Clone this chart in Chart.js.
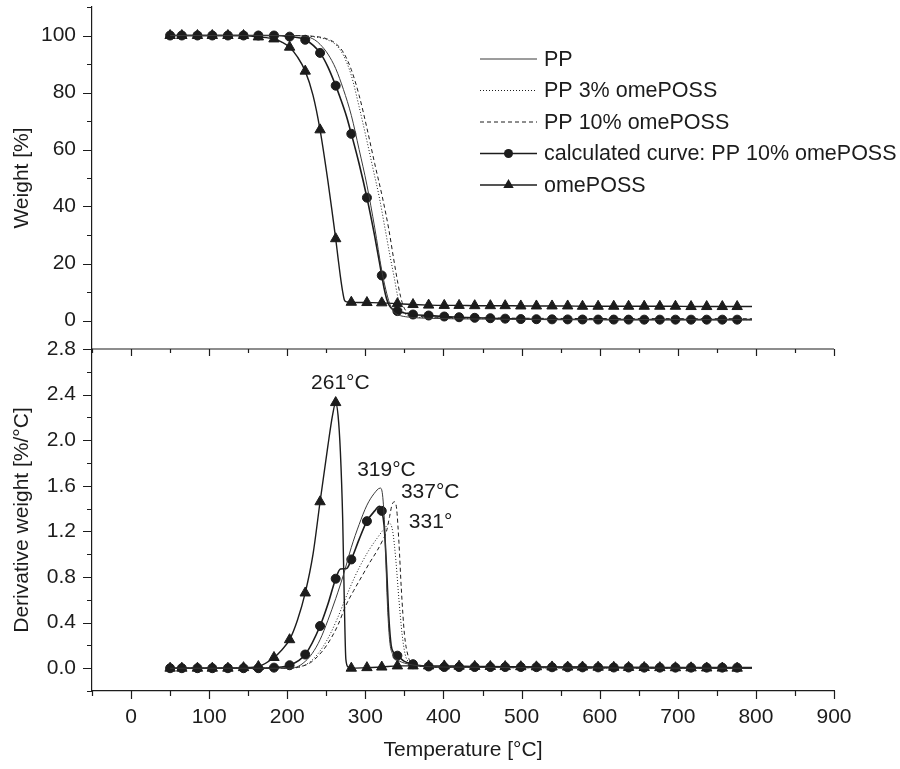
<!DOCTYPE html>
<html lang="en">

<head>
  <meta charset="UTF-8">
  <title>TGA / DTG</title>
  <script src="https://cdn.jsdelivr.net/npm/chart.js"></script>
  <style>
    html, body { margin: 0; padding: 0; background: #fff; }
  </style>
</head>

<body>
  <canvas id="tgaChart" width="900" height="769"></canvas>

  <script>
    // ---- data ----
    const seriesNames = ['PP', 'PP 3% omePOSS', 'PP 10% omePOSS', 'calculated curve: PP 10% omePOSS', 'omePOSS'];

    // temperatures where the symbols sit on the two marked curves
    const markerTemps = [50, 65, 85, 104, 124, 144, 163, 183, 203, 223, 242, 262, 282, 302, 321, 341, 361, 381, 401,
      420, 440, 460, 479, 499, 519, 539, 559, 578, 598, 618, 637, 657, 677, 697, 717, 737, 757, 776];

    // PP (solid)
    const ppWT = [50, 200, 223, 235, 242, 252, 262, 272, 282, 292, 302, 312, 321, 326, 331, 336, 342, 355, 380, 450, 550, 795];
    const ppWV = [100, 100, 99.7, 98.5, 96.9, 93.5, 88.4, 81, 72, 60, 47.5, 32.5, 17.5, 11, 6, 3.2, 2.0, 1.2, 0.8, 0.5, 0.35, 0.3];
    const ppDT = [50, 200, 212, 223, 232, 242, 252, 262, 272, 282, 292, 302, 311, 319, 322, 325, 328, 331, 335, 342, 350, 370, 400, 795];
    const ppDV = [0, 0, 0.01, 0.06, 0.13, 0.25, 0.42, 0.61, 0.82, 1.06, 1.26, 1.43, 1.53, 1.58, 1.52, 1.2, 0.6, 0.25, 0.12, 0.07, 0.045, 0.02, 0.01, 0];

    // PP 3% omePOSS (dotted)
    const pp3WT = [50, 210, 230, 250, 262, 272, 282, 292, 302, 310, 318, 326, 332, 337, 341, 345, 350, 360, 400, 500, 795];
    const pp3WV = [100, 100, 99.7, 98.6, 96.8, 93, 86, 75, 63, 53, 43, 31, 22, 15, 9, 4.8, 2.6, 1.4, 0.8, 0.5, 0.3];
    const pp3DT = [50, 200, 215, 230, 245, 255, 265, 275, 285, 295, 305, 315, 325, 331, 335, 339, 343, 347, 351, 356, 365, 400, 795];
    const pp3DV = [0, 0, 0.01, 0.06, 0.18, 0.3, 0.45, 0.62, 0.78, 0.92, 1.04, 1.14, 1.23, 1.27, 1.2, 0.95, 0.6, 0.3, 0.12, 0.05, 0.02, 0.01, 0];

    // PP 10% omePOSS (dashed)
    const pp10WT = [50, 210, 230, 250, 262, 272, 282, 292, 302, 312, 322, 330, 336, 341, 345, 349, 354, 365, 400, 500, 795];
    const pp10WV = [100, 100, 99.8, 98.9, 97.2, 94, 88, 79, 67.5, 55, 43, 32, 22, 14, 8.5, 4.8, 2.8, 1.6, 1.1, 0.8, 0.6];
    const pp10DT = [50, 200, 215, 230, 245, 255, 265, 275, 285, 295, 305, 315, 322, 327, 331, 334, 337, 340, 343, 346, 350, 355, 360, 370, 400, 795];
    const pp10DV = [0, 0, 0.01, 0.05, 0.15, 0.25, 0.38, 0.55, 0.68, 0.8, 0.92, 1.03, 1.12, 1.2, 1.33, 1.43, 1.46, 1.4, 1.1, 0.7, 0.3, 0.1, 0.04, 0.02, 0.01, 0];

    // calculated curve (circles)
    const calcT = [50, 65, 85, 104, 124, 144, 163, 183, 203, 223, 242, 252, 262, 268, 276, 282, 292, 302, 312, 318, 321, 324,
      327, 330, 333, 336, 341, 350, 361, 381, 401, 420, 440, 460, 479, 499, 519, 539, 559, 578, 598, 618, 637, 657, 677,
      697, 717, 737, 757, 776, 795];
    const calcW = [100, 100, 100, 100, 100, 100, 100, 100, 99.6, 98.5, 93.9, 89, 82.4, 78, 71.5, 65.5, 55, 43.1, 29.5, 20.5,
      15.8, 11.3, 7.8, 5.6, 4.4, 3.8, 3.3, 2.6, 2.1, 1.75, 1.4, 1.15, 0.95, 0.8, 0.65, 0.5, 0.45, 0.4, 0.38, 0.35, 0.33,
      0.32, 0.31, 0.3, 0.3, 0.3, 0.3, 0.3, 0.3, 0.3, 0.3];
    const calcD = [0, 0, 0, 0, 0, 0, 0, 0.005, 0.026, 0.12, 0.37, 0.56, 0.785, 0.87, 0.875, 0.954, 1.13, 1.29, 1.38, 1.42,
      1.38, 1.25, 0.9, 0.45, 0.2, 0.14, 0.11, 0.06, 0.035, 0.015, 0.01, 0.01, 0.01, 0.01, 0.01, 0.01, 0.009, 0.008, 0.008,
      0.007, 0.007, 0.006, 0.006, 0.005, 0.005, 0.005, 0.005, 0.005, 0.005, 0.005, 0.005];

    // omePOSS (triangles)
    const omeT = [50, 65, 85, 104, 124, 144, 163, 183, 193, 203, 213, 223, 233, 242, 252, 258, 262, 265, 268, 271, 273, 275,
      278, 282, 302, 321, 341, 361, 381, 401, 420, 440, 460, 479, 499, 519, 539, 559, 578, 598, 618, 637, 657, 677, 697,
      717, 737, 757, 776, 795];
    const omeW = [100, 100, 100, 100, 100, 100, 99.5, 98.8, 97.7, 95.9, 92.5, 87.5, 79, 66.9, 49, 37, 28.7, 22, 15.5, 10,
      7.3, 6.6, 6.5, 6.4, 6.3, 6.2, 5.9, 5.6, 5.4, 5.3, 5.3, 5.2, 5.2, 5.2, 5.1, 5.1, 5.1, 5.1, 5.0, 5.0, 5.0, 5.0, 5.0,
      5.0, 5.0, 4.9, 4.9, 4.9, 4.9, 4.9];
    const omeD = [0, 0, 0, 0, 0, 0.005, 0.015, 0.094, 0.16, 0.25, 0.42, 0.66, 1.0, 1.46, 1.95, 2.22, 2.33, 2.22, 1.9, 1.3,
      0.6, 0.08, 0.01, 0, 0.005, 0.01, 0.02, 0.02, 0.02, 0.02, 0.018, 0.016, 0.015, 0.014, 0.013, 0.012, 0.011, 0.01,
      0.01, 0.009, 0.008, 0.007, 0.006, 0.005, 0.004, 0.003, 0.002, 0.001, 0, 0];

    // peak temperature labels in the DTG panel
    const peakLabels = ['261°C', '319°C', '337°C', '331°'];
    const peakLabelX = [268, 327, 383, 383.5];
    const peakLabelY = [2.5, 1.74, 1.54, 1.28];

    // axis ticks
    const xTickVals = [0, 100, 200, 300, 400, 500, 600, 700, 800, 900];
    const xMinorVals = [-50, 50, 150, 250, 350, 450, 550, 650, 750, 850];
    const wTickVals = [0, 20, 40, 60, 80, 100];
    const wMinorVals = [10, 30, 50, 70, 90, 110];
    const dTickVals = [0, 0.4, 0.8, 1.2, 1.6, 2.0, 2.4, 2.8];
    const dMinorVals = [-0.2, 0.2, 0.6, 1.0, 1.4, 1.8, 2.2, 2.6];

    // ---- styling ----
    const ink = '#1c1c1c';
    const fontFamily = '"Liberation Sans", Arial, Helvetica, sans-serif';
    Chart.defaults.font.family = fontFamily;
    Chart.defaults.font.size = 21;
    Chart.defaults.color = ink;

    const lineStyles = [
      { borderWidth: 1, borderDash: [], color: '#3a3a3a' },
      { borderWidth: 1, borderDash: [1, 2], color: ink },
      { borderWidth: 1, borderDash: [4, 3], color: ink },
      { borderWidth: 1.6, borderDash: [], color: ink, point: 'circle', radius: 4.5 },
      { borderWidth: 1.4, borderDash: [], color: ink, point: 'triangle', radius: 6 }
    ];

    function pts(ts, vs) {
      return ts.map((t, i) => ({ x: t, y: vs[i] }));
    }

    function makeSet(i, data, axis) {
      const s = lineStyles[i];
      return {
        label: seriesNames[i],
        data: data,
        yAxisID: axis,
        borderColor: s.color,
        backgroundColor: s.color,
        borderWidth: s.borderWidth,
        borderDash: s.borderDash,
        cubicInterpolationMode: 'monotone',
        pointStyle: s.point || 'circle',
        pointRadius: s.point ? (ctx) => (markerTemps.includes(ctx.raw.x) ? s.radius : 0) : 0,
        pointBorderWidth: 1,
        pointBackgroundColor: s.color,
        pointBorderColor: s.color,
        pointHoverRadius: 0
      };
    }

    const datasets = [
      makeSet(0, pts(ppWT, ppWV), 'yW'),
      makeSet(1, pts(pp3WT, pp3WV), 'yW'),
      makeSet(2, pts(pp10WT, pp10WV), 'yW'),
      makeSet(3, pts(calcT, calcW), 'yW'),
      makeSet(4, pts(omeT, omeW), 'yW'),
      makeSet(0, pts(ppDT, ppDV), 'yD'),
      makeSet(1, pts(pp3DT, pp3DV), 'yD'),
      makeSet(2, pts(pp10DT, pp10DV), 'yD'),
      makeSet(3, pts(calcT, calcD), 'yD'),
      makeSet(4, pts(omeT, omeD), 'yD')
    ];

    // ticks, the line between the panels, peak labels and the legend
    const extras = {
      id: 'extras',
      afterDraw(chart) {
        const { ctx, chartArea: a, scales: { x, yW, yD } } = chart;
        ctx.save();
        ctx.strokeStyle = ink;
        ctx.lineWidth = 1.2;
        ctx.beginPath();
        ctx.moveTo(a.left, yD.top);
        ctx.lineTo(a.right, yD.top);

        const vTick = (v, len, y0, dir) => {
          const px = Math.round(x.getPixelForValue(v)) + 0.5;
          ctx.moveTo(px, y0);
          ctx.lineTo(px, y0 + dir * len);
        };
        xTickVals.forEach(v => { vTick(v, 8, a.bottom, 1); vTick(v, 7, yD.top, 1); });
        xMinorVals.forEach(v => { vTick(v, 5, a.bottom, 1); vTick(v, 4, yD.top, 1); });

        const hTick = (scale, v, len) => {
          const py = Math.round(scale.getPixelForValue(v)) + 0.5;
          ctx.moveTo(a.left, py);
          ctx.lineTo(a.left - len, py);
        };
        wTickVals.forEach(v => hTick(yW, v, 9));
        wMinorVals.forEach(v => hTick(yW, v, 5));
        dTickVals.forEach(v => hTick(yD, v, 9));
        dMinorVals.forEach(v => hTick(yD, v, 5));
        ctx.stroke();

        // peak labels
        ctx.fillStyle = ink;
        ctx.font = '21px ' + fontFamily;
        ctx.textAlign = 'center';
        ctx.textBaseline = 'middle';
        peakLabels.forEach((t, i) => {
          ctx.fillText(t, x.getPixelForValue(peakLabelX[i]), yD.getPixelForValue(peakLabelY[i]));
        });

        // legend
        const lx0 = a.left + 388, lx1 = a.left + 445, tx = a.left + 452;
        ctx.font = '21.5px ' + fontFamily;
        ctx.textAlign = 'left';
        seriesNames.forEach((name, i) => {
          const s = lineStyles[i];
          const ly = a.top + 52 + i * 31.5;
          ctx.beginPath();
          ctx.lineWidth = s.borderWidth;
          ctx.strokeStyle = s.color;
          ctx.setLineDash(s.borderDash);
          ctx.moveTo(lx0, ly);
          ctx.lineTo(lx1, ly);
          ctx.stroke();
          ctx.setLineDash([]);
          const mx = (lx0 + lx1) / 2;
          if (s.point === 'circle') {
            ctx.beginPath();
            ctx.arc(mx, ly, s.radius, 0, Math.PI * 2);
            ctx.fill();
          } else if (s.point === 'triangle') {
            const r = s.radius;
            ctx.beginPath();
            ctx.moveTo(mx, ly - r);
            ctx.lineTo(mx + r * 0.866, ly + r * 0.5);
            ctx.lineTo(mx - r * 0.866, ly + r * 0.5);
            ctx.closePath();
            ctx.fill();
          }
          ctx.fillText(name, tx, ly + 1);
        });
        ctx.restore();
      }
    };

    const noGrid = { display: false, drawTicks: false };
    const axisBorder = { display: true, color: ink, width: 1.2 };

    // no extra room for half tick labels at the ends of the axes
    function noEdgePadding(scale) {
      scale.paddingTop = 0;
      scale.paddingBottom = 0;
      scale.paddingLeft = 0;
      scale.paddingRight = 0;
    }

    new Chart(document.getElementById('tgaChart'), {
      type: 'line',
      data: { datasets: datasets },
      options: {
        responsive: false,
        animation: false,
        events: [],
        layout: { padding: { top: 7, right: 66, left: 0, bottom: 0 } },
        plugins: {
          legend: { display: false },
          tooltip: { enabled: false }
        },
        scales: {
          x: {
            type: 'linear',
            position: 'bottom',
            min: -50,
            max: 900,
            grid: noGrid,
            border: axisBorder,
            afterBuildTicks: (scale) => { scale.ticks = xTickVals.map(v => ({ value: v })); },
            afterFit: (scale) => { scale.height = 78; noEdgePadding(scale); },
            ticks: { padding: 14, maxRotation: 0, autoSkip: false, callback: (v) => String(v) },
            title: { display: true, text: 'Temperature [°C]', padding: { top: 0, bottom: 6 } }
          },
          yD: {
            type: 'linear',
            position: 'left',
            stack: 'tga',
            stackWeight: 1,
            min: -0.2,
            max: 2.8,
            grid: noGrid,
            border: axisBorder,
            afterBuildTicks: (scale) => { scale.ticks = dTickVals.map(v => ({ value: v })); },
            afterFit: (scale) => { scale.width = 92; noEdgePadding(scale); },
            ticks: { padding: 16, autoSkip: false, callback: (v) => v.toFixed(1) },
            title: { display: true, text: 'Derivative weight [%/°C]', padding: { top: 10, bottom: 0 } }
          },
          yW: {
            type: 'linear',
            position: 'left',
            stack: 'tga',
            stackWeight: 1,
            min: -10,
            max: 110,
            grid: noGrid,
            border: axisBorder,
            afterBuildTicks: (scale) => { scale.ticks = wTickVals.map(v => ({ value: v })); },
            afterFit: (scale) => { scale.width = 92; noEdgePadding(scale); },
            ticks: { padding: 16, autoSkip: false, callback: (v) => String(v) },
            title: { display: true, text: 'Weight [%]', padding: { top: 10, bottom: 0 } }
          }
        }
      },
      plugins: [extras]
    });
  </script>
</body>

</html>
